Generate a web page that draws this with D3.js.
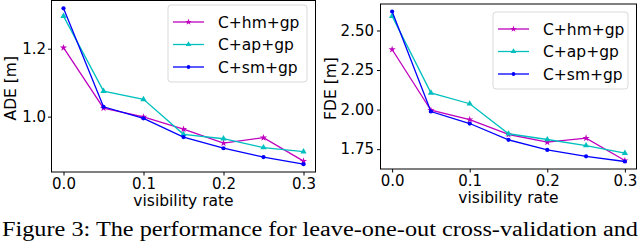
<!DOCTYPE html>
<html>
<head>
<meta charset="utf-8">
<script src="https://cdn.jsdelivr.net/npm/d3@7"></script>
<style>
  body { margin: 0; background: #fff; }
  svg { display: block; }
  .tick text { font-family: "DejaVu Sans", sans-serif; font-size: 15px; fill: #000; }
  .tick line { stroke: #000; }
  .domain { display: none; }
</style>
</head>
<body>
<div id="chart"></div>
<script>
// données
const visibility = [0.0, 0.05, 0.1, 0.15, 0.2, 0.25, 0.3];
const seriesNames = ["C+hm+gp", "C+ap+gp", "C+sm+gp"];
const seriesColors = ["#bf00bf", "#00bfbf", "#0000ff"];
const seriesMarkers = ["star", "triangle", "circle"];

const adeHm = [1.203, 1.025, 0.999, 0.963, 0.922, 0.938, 0.869];
const adeAp = [1.296, 1.075, 1.051, 0.948, 0.935, 0.909, 0.897];
const adeSm = [1.319, 1.029, 0.995, 0.940, 0.907, 0.881, 0.860];

const fdeHm = [2.380, 1.996, 1.937, 1.843, 1.794, 1.820, 1.678];
const fdeAp = [2.591, 2.106, 2.037, 1.847, 1.811, 1.773, 1.725];
const fdeSm = [2.620, 1.988, 1.912, 1.809, 1.745, 1.705, 1.672];

const xTicks = [0.0, 0.1, 0.2, 0.3];
const adeTicks = [1.0, 1.2];
const fdeTicks = [1.75, 2.00, 2.25, 2.50];

const caption = "Figure 3: The performance for leave-one-out cross-validation and";

const width = 640, height = 241;

const svg = d3.select("#chart").append("svg")
    .attr("width", width)
    .attr("height", height);

// marge de 5% comme matplotlib
function padded(ext) {
    const m = (ext[1] - ext[0]) * 0.05;
    return [ext[0] - m, ext[1] + m];
}

const symbols = {
    star: d3.symbolStar,
    triangle: d3.symbolTriangle,
    circle: d3.symbolCircle
};
const symbolSizes = { star: 16, triangle: 17, circle: 14 };

function drawPanel(cfg) {
    const g = svg.append("g");
    const all = cfg.series.flat();

    const x = d3.scaleLinear()
        .domain(padded(d3.extent(visibility)))
        .range([cfg.left, cfg.right]);
    const y = d3.scaleLinear()
        .domain(padded(d3.extent(all)))
        .range([cfg.bottom, cfg.top]);

    // axes
    g.append("g")
        .attr("transform", "translate(0," + cfg.bottom + ")")
        .call(d3.axisBottom(x).tickValues(xTicks).tickFormat(d3.format(".1f")).tickSize(3.5).tickPadding(2.5));
    g.append("g")
        .attr("transform", "translate(" + cfg.left + ",0)")
        .call(d3.axisLeft(y).tickValues(cfg.ticks).tickFormat(d3.format(cfg.fmt)).tickSize(3.5).tickPadding(cfg.pad));

    // courbes
    const line = d3.line()
        .x((d, i) => x(visibility[i]))
        .y(d => y(d));

    cfg.series.forEach(function(vals, s) {
        g.append("path")
            .datum(vals)
            .attr("d", line)
            .attr("fill", "none")
            .attr("stroke", seriesColors[s])
            .attr("stroke-width", 1.3);

        g.selectAll(null)
            .data(vals)
            .enter().append("path")
            .attr("d", d3.symbol().type(symbols[seriesMarkers[s]]).size(symbolSizes[seriesMarkers[s]]))
            .attr("transform", (d, i) => "translate(" + x(visibility[i]) + "," + y(d) + ")")
            .attr("fill", seriesColors[s]);
    });

    // cadre
    g.append("rect")
        .attr("x", cfg.left)
        .attr("y", cfg.top)
        .attr("width", cfg.right - cfg.left)
        .attr("height", cfg.bottom - cfg.top)
        .attr("fill", "none")
        .attr("stroke", "#000")
        .attr("stroke-width", 1);

    // titres des axes
    g.append("text")
        .attr("x", (cfg.left + cfg.right) / 2)
        .attr("y", cfg.bottom + 34)
        .attr("text-anchor", "middle")
        .style("font-family", "DejaVu Sans, sans-serif")
        .style("font-size", "15.5px")
        .text("visibility rate");

    g.append("text")
        .attr("transform", "translate(" + cfg.ylabelX + "," + ((cfg.top + cfg.bottom) / 2 + 2) + ") rotate(-90)")
        .attr("text-anchor", "middle")
        .style("font-family", "DejaVu Sans, sans-serif")
        .style("font-size", "15.5px")
        .text(cfg.ylabel);

    // légende
    const lg = g.append("g")
        .attr("transform", "translate(" + cfg.legend[0] + "," + cfg.legend[1] + ")");
    lg.append("rect")
        .attr("width", cfg.legendW)
        .attr("height", 77)
        .attr("rx", 3)
        .attr("fill", "#fff")
        .attr("fill-opacity", 0.8)
        .attr("stroke", "#d9d9d9")
        .attr("stroke-width", 1);

    seriesNames.forEach(function(name, s) {
        const ly = 17 + s * 22.5;
        lg.append("line")
            .attr("x1", 5).attr("x2", 36)
            .attr("y1", ly).attr("y2", ly)
            .attr("stroke", seriesColors[s])
            .attr("stroke-width", 1.3);
        lg.append("path")
            .attr("d", d3.symbol().type(symbols[seriesMarkers[s]]).size(symbolSizes[seriesMarkers[s]] * 0.8))
            .attr("transform", "translate(20.5," + ly + ")")
            .attr("fill", seriesColors[s]);
        lg.append("text")
            .attr("x", 50)
            .attr("y", ly + 5.5)
            .style("font-family", "DejaVu Sans, sans-serif")
            .style("font-size", "15.5px")
            .text(name);
    });
}

drawPanel({
    left: 51.5, right: 315.5, top: 0.5, bottom: 172,
    series: [adeHm, adeAp, adeSm], ticks: adeTicks, fmt: ".1f", pad: 2,
    ylabel: "ADE [m]", ylabelX: 16, legend: [168, 5], legendW: 139
});

drawPanel({
    left: 380.5, right: 636.5, top: 4, bottom: 169,
    series: [fdeHm, fdeAp, fdeSm], ticks: fdeTicks, fmt: ".2f", pad: 3,
    ylabel: "FDE [m]", ylabelX: 336, legend: [493, 12], legendW: 135
});

// légende de la figure
svg.append("text")
    .attr("x", 2)
    .attr("y", 236)
    .attr("textLength", 636)
    .attr("lengthAdjust", "spacingAndGlyphs")
    .style("font-family", "Liberation Serif, Times New Roman, serif")
    .style("font-size", "20px")
    .text(caption);
</script>
</body>
</html>
